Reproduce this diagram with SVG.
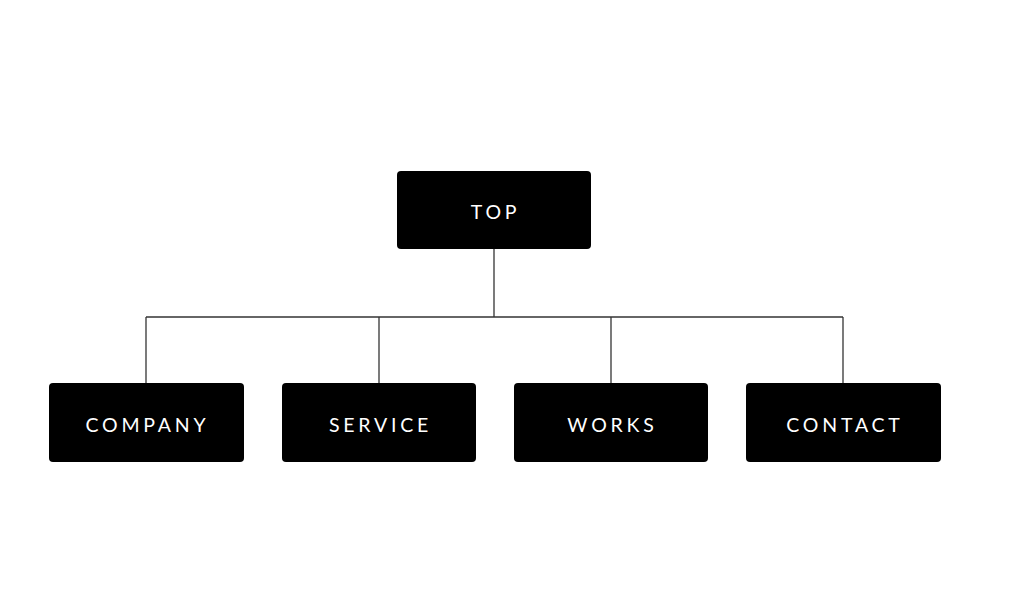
<svg xmlns="http://www.w3.org/2000/svg" width="1024" height="605" viewBox="0 0 1024 605">
  <style>
    .box { fill: #000000; }
    .label { fill: #ffffff; font-family: "Lato", "Liberation Sans", sans-serif; font-size: 19.5px; font-weight: 400; letter-spacing: 3.8px; text-anchor: middle; dominant-baseline: central; }
    .wire { fill: none; stroke: #333333; stroke-width: 1.3; }
  </style>
  <rect width="1024" height="605" fill="#ffffff"/>

  <!-- tree connectors -->
  <g id="connectors">
    <path class="wire" d="M494 249 V317"/>
    <path class="wire" d="M146 317 H843"/>
    <path class="wire" d="M146 317 V383"/>
    <path class="wire" d="M379 317 V383"/>
    <path class="wire" d="M611 317 V383"/>
    <path class="wire" d="M843 317 V383"/>
  </g>

  <g id="top">
    <rect class="box" x="397" y="171" width="194" height="78" rx="4"/>
    <text class="label" x="495.5" y="211">TOP</text>
  </g>
  <g id="company">
    <rect class="box" x="49" y="383" width="195" height="79" rx="4"/>
    <text class="label" x="147.5" y="424.5">COMPANY</text>
  </g>
  <g id="service">
    <rect class="box" x="282" y="383" width="194" height="79" rx="4"/>
    <text class="label" x="380.5" y="424.5">SERVICE</text>
  </g>
  <g id="works">
    <rect class="box" x="514" y="383" width="194" height="79" rx="4"/>
    <text class="label" x="612.5" y="424.5">WORKS</text>
  </g>
  <g id="contact">
    <rect class="box" x="746" y="383" width="195" height="79" rx="4"/>
    <text class="label" x="845" y="424.5">CONTACT</text>
  </g>
</svg>
